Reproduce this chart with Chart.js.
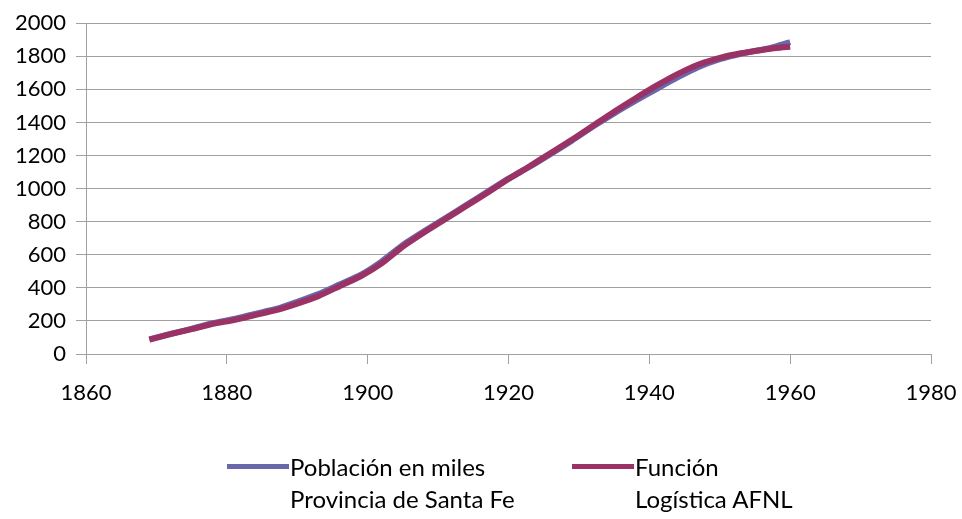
<!DOCTYPE html>
<html>
<head>
<meta charset="utf-8">
<script src="https://cdn.jsdelivr.net/npm/chart.js@4"></script>
<style>
  html, body { margin: 0; padding: 0; background: #fff; }
  #wrap { position: relative; width: 962px; height: 519px; font-family: Lato, "Noto Sans", sans-serif; }
  #chart { position: absolute; left: 0; top: 0; }
  .legend-item { position: absolute; font-size: 24px; line-height: 32px; color: #000; }
  .swatch { position: absolute; width: 62px; height: 5px; }
</style>
</head>
<body>
<div id="wrap">
  <canvas id="chart" width="962" height="519"></canvas>
  <div class="swatch" style="left:227px; top:464px; background:#6868AA;"></div>
  <div class="legend-item" style="left:290px; top:451px;">Población en miles<br>Provincia de Santa Fe</div>
  <div class="swatch" style="left:572px; top:464px; background:#9A3265;"></div>
  <div class="legend-item" style="left:635px; top:451px;">Función<br>Logística AFNL</div>
</div>
<script>
const years = [1869, 1872, 1875, 1878, 1881, 1884, 1887, 1890, 1893, 1896, 1899, 1902, 1905, 1908, 1911, 1914,
               1917, 1920, 1923, 1926, 1929, 1932, 1935, 1938, 1941, 1944, 1947, 1950, 1953, 1956, 1958, 1960];
const poblacion = [89, 122, 152, 186, 212, 243, 272, 315, 362, 420, 478, 560, 660, 742, 820, 900,
                   980, 1060, 1132, 1210, 1290, 1375, 1455, 1530, 1602, 1672, 1735, 1782, 1815, 1840, 1860, 1885];
const logistica = [87, 120, 150, 182, 205, 235, 265, 305, 350, 410, 470, 548, 650, 735, 815, 895,
                   975, 1058, 1135, 1215, 1295, 1380, 1465, 1545, 1622, 1692, 1750, 1790, 1818, 1838, 1850, 1858];
const xTicks = [1860, 1880, 1900, 1920, 1940, 1960, 1980];
const yTicks = [0, 200, 400, 600, 800, 1000, 1200, 1400, 1600, 1800, 2000];

const toPoints = vals => years.map((y, i) => ({ x: y, y: vals[i] }));

new Chart(document.getElementById('chart'), {
    type: 'line',
    data: {
        datasets: [
            {
                label: 'Población en miles Provincia de Santa Fe',
                data: toPoints(poblacion),
                borderColor: '#6868AA',
                borderWidth: 6,
                pointRadius: 0,
                tension: 0.2,
                order: 1
            },
            {
                label: 'Función Logística AFNL',
                data: toPoints(logistica),
                borderColor: '#9A3265',
                borderWidth: 6,
                pointRadius: 0,
                tension: 0.2,
                order: 0
            }
        ]
    },
    options: {
        responsive: false,
        animation: false,
        layout: { padding: { top: 20, right: 31, bottom: 0, left: 0 } },
        plugins: { legend: { display: false }, tooltip: { enabled: false } },
        scales: {
            x: {
                type: 'linear',
                min: xTicks[0],
                max: xTicks[xTicks.length - 1],
                afterBuildTicks: s => { s.ticks = xTicks.map(v => ({ value: v })); },
                afterFit: s => { s.height = 165; s.paddingLeft = 0; s.paddingRight = 0; },
                grid: { drawOnChartArea: false, drawTicks: true, tickLength: 10, color: '#A0A0A0' },
                border: { color: '#A0A0A0' },
                ticks: { color: '#000', font: { family: 'Lato', size: 22 }, padding: 16, maxRotation: 0,
                         callback: v => String(v) }
            },
            y: {
                min: yTicks[0],
                max: yTicks[yTicks.length - 1],
                afterBuildTicks: s => { s.ticks = yTicks.map(v => ({ value: v })); },
                afterFit: s => { s.width = 86; },
                grid: { color: '#A0A0A0', tickLength: 10 },
                border: { color: '#A0A0A0' },
                ticks: { color: '#000', font: { family: 'Lato', size: 22 }, padding: 10,
                         callback: v => String(v) }
            }
        }
    }
});
</script>
</body>
</html>
